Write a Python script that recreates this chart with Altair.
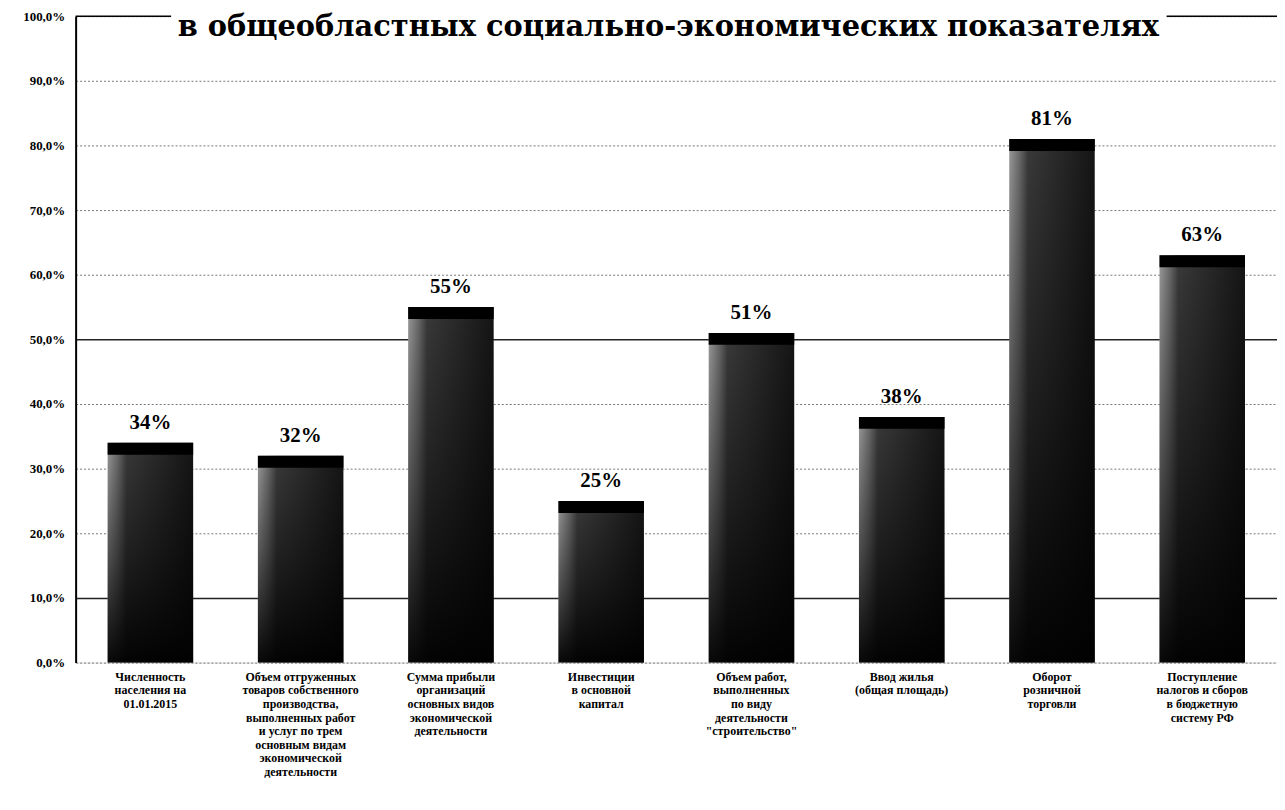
import altair as alt
import pandas as pd

categories = [
    "Численность|населения на|01.01.2015",
    "Объем отгруженных|товаров собственного|производства,|выполненных работ|и услуг по трем|основным видам|экономической|деятельности",
    "Сумма прибыли|организаций|основных видов|экономической|деятельности",
    "Инвестиции|в основной|капитал",
    "Объем работ,|выполненных|по виду|деятельности|\"строительство\"",
    "Ввод жилья|(общая площадь)",
    "Оборот|розничной|торговли",
    "Поступление|налогов и сборов|в бюджетную|систему РФ",
]
values = [0.34, 0.32, 0.55, 0.25, 0.51, 0.38, 0.81, 0.63]
labels = ["34%", "32%", "55%", "25%", "51%", "38%", "81%", "63%"]
title_text = "в общеобластных социально-экономических показателях"

df = pd.DataFrame({"cat": categories, "val": values, "lbl": labels})

FONT = "Liberation Serif"
W, H = 1208, 650
BAR_W = 86

strong = "datum.value == 0.1 || datum.value == 0.5"

x = alt.X("cat:N", sort=categories, title=None,
          scale=alt.Scale(paddingInner=0.431, paddingOuter=0.213),
          axis=alt.Axis(labelExpr="split(datum.label, '|')", labelAngle=0,
                        labelFont=FONT, labelFontSize=12, labelFontWeight="bold",
                        labelColor="black", labelLineHeight=13.6, labelPadding=9,
                        ticks=False, domain=False, labelBaseline="top"))
y = alt.Y("val:Q", title=None,
          scale=alt.Scale(domain=[0, 1], nice=False),
          axis=alt.Axis(values=[i / 10 for i in range(11)],
                        labelExpr="replace(format(datum.value, '.1%'), '.', ',')",
                        labelFont=FONT, labelFontSize=13, labelFontWeight="bold",
                        labelColor="black", labelPadding=11, ticks=False,
                        domainColor="black", domainWidth=2,
                        grid=True,
                        gridColor={"condition": {"test": strong, "value": "#222222"}, "value": "#777777"},
                        gridDash={"condition": {"test": strong, "value": []}, "value": [2, 2]},
                        gridWidth={"condition": {"test": strong, "value": 1.5}, "value": 1}))

base = alt.Chart(df)

bars = base.mark_bar(
    color=alt.Gradient(
        gradient="linear", x1=0, x2=1, y1=0, y2=0,
        stops=[alt.GradientStop(offset=0, color="#9a9a9a"),
               alt.GradientStop(offset=0.12, color="#6a6a6a"),
               alt.GradientStop(offset=0.22, color="#3a3a3a"),
               alt.GradientStop(offset=1, color="#151515")])
).encode(x=x, y=y)

shade = base.mark_bar(
    color=alt.Gradient(
        gradient="linear", x1=0, x2=0, y1=0, y2=1,
        stops=[alt.GradientStop(offset=0, color="rgba(0,0,0,0)"),
               alt.GradientStop(offset=0.5, color="rgba(0,0,0,0.45)"),
               alt.GradientStop(offset=1, color="rgba(0,0,0,0.95)")])
).encode(x=alt.X("cat:N", sort=categories), y="val:Q")

bevel = base.mark_tick(color="black", thickness=12, size=BAR_W, yOffset=6, opacity=1).encode(
    x=alt.X("cat:N", sort=categories), y="val:Q")

text = base.mark_text(font=FONT, fontSize=21, fontWeight="bold", color="black",
                      baseline="middle", dy=-20).encode(
    x=alt.X("cat:N", sort=categories), y="val:Q", text="lbl:N")

one = alt.Chart(pd.DataFrame({"t": [title_text]}))

top_rule = one.mark_rule(color="black", strokeWidth=1.5).encode(y=alt.datum(1.0))

mask = one.mark_rect(color="white").encode(
    x=alt.value(96), x2=alt.value(1097), y=alt.value(-6), y2=alt.value(6))

title = one.mark_text(font="DejaVu Serif", fontSize=29, fontWeight="bold", color="black",
                      baseline="alphabetic", align="center").encode(
    x=alt.value(596), y=alt.value(20), text="t:N")

chart = alt.layer(bars, shade, bevel, text, top_rule, mask, title).properties(
    width=W, height=H,
    autosize=alt.AutoSizeParams(type="none"),
    padding={"left": 68, "top": 6, "right": 0, "bottom": 140},
).configure_view(stroke=None).configure(background="white")

chart.save("out.html", embed_options={"renderer": "svg", "actions": False})
